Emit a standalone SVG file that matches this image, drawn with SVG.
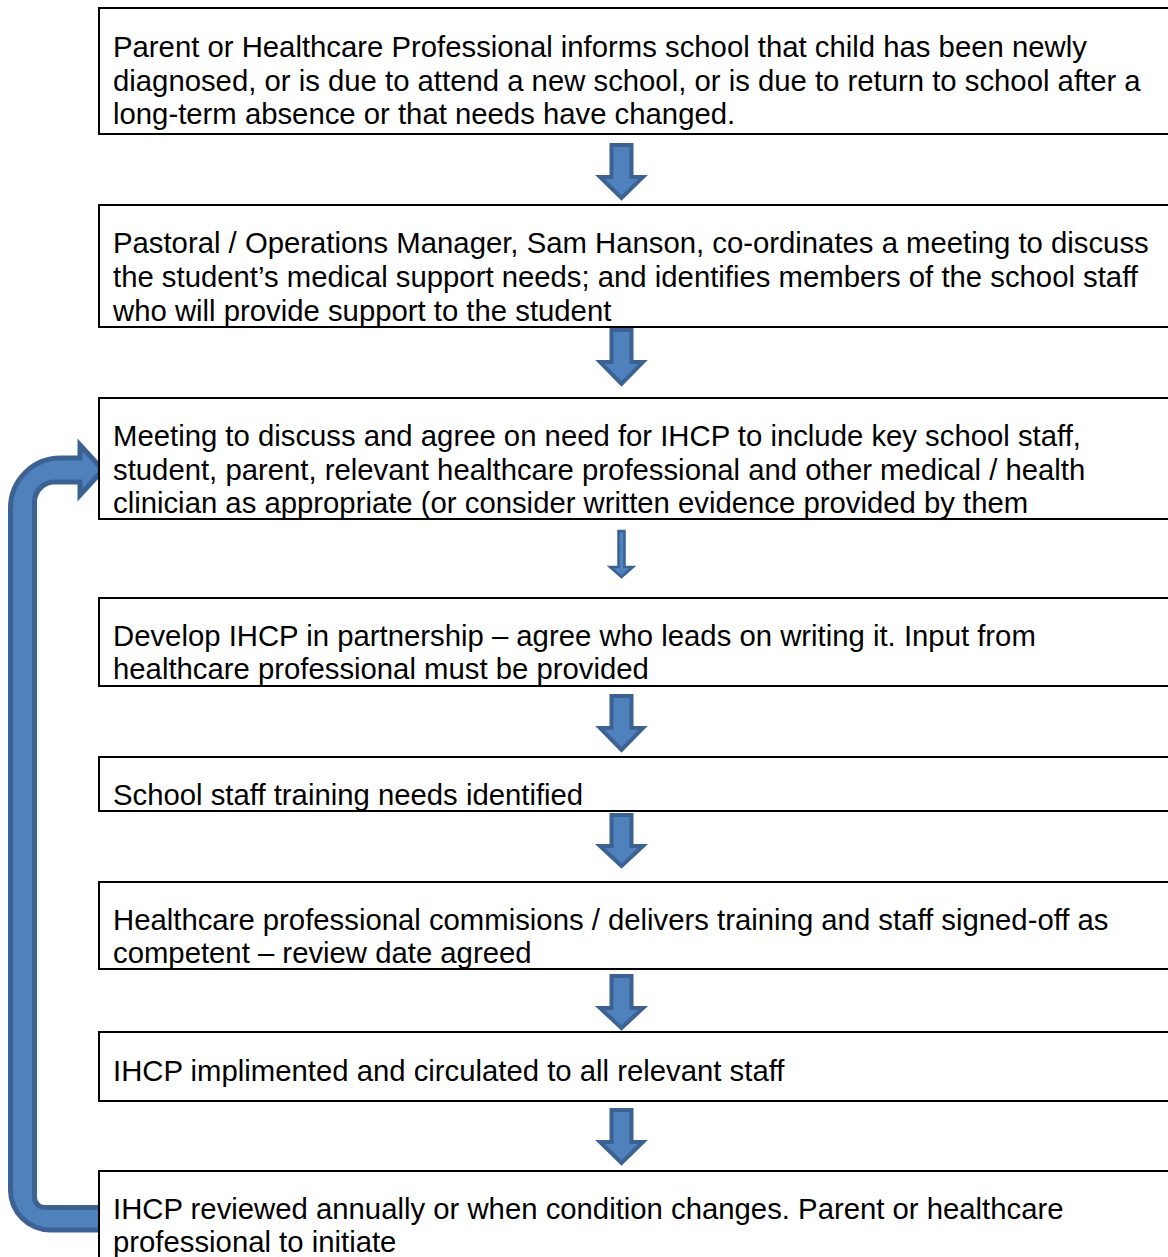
<svg xmlns="http://www.w3.org/2000/svg" width="1168" height="1257" viewBox="0 0 1168 1257">
<style>
.box{fill:#fff;stroke:#000;stroke-width:2}
.t{font-family:"Liberation Sans",Arial,sans-serif;font-size:29.3px;fill:#000}
.arr{fill:#4f81bd;stroke:#3b6293;stroke-width:4;stroke-linejoin:miter}
</style>
<rect width="1168" height="1257" fill="#fff"/>
<g id="connectors">
<path class="arr" style="stroke-width:5" d="M10.5 1190 L10.5 508 A50 50 0 0 1 60.5 458 L80 458 L80 445 L103 470 L80 495 L80 482 L54.5 482 A20 20 0 0 0 34.5 502 L34.5 1197.5 A10 10 0 0 0 44.5 1207.5 L105 1207.5 L105 1230 L50.5 1230 A40 40 0 0 1 10.5 1190 Z"/>
<path class="arr" d="M611.5 145 H631.5 V177 H643 L621.5 198 L600 177 H611.5 Z"/>
<path class="arr" d="M611.5 330 H631.5 V362 H643 L621.5 384 L600 362 H611.5 Z"/>
<path class="arr" style="stroke-width:2.5" d="M618.5 531 H624.5 V567 H633 L621.5 577 L610 567 H618.5 Z"/>
<path class="arr" d="M611.5 696 H631.5 V728 H643 L621.5 750 L600 728 H611.5 Z"/>
<path class="arr" d="M611.5 815 H631.5 V846 H643 L621.5 866 L600 846 H611.5 Z"/>
<path class="arr" d="M611.5 976 H631.5 V1008 H643 L621.5 1028 L600 1008 H611.5 Z"/>
<path class="arr" d="M611.5 1110 H631.5 V1142 H643 L621.5 1163 L600 1142 H611.5 Z"/>
</g>
<g id="n1"><rect class="box" x="99" y="8" width="1090" height="126"/>
<text class="t" x="113" y="57">Parent or Healthcare Professional informs school that child has been newly</text>
<text class="t" x="113" y="90.5">diagnosed, or is due to attend a new school, or is due to return to school after a</text>
<text class="t" x="113" y="124">long-term absence or that needs have changed.</text></g>
<g id="n2"><rect class="box" x="99" y="205" width="1090" height="122"/>
<text class="t" x="113" y="253">Pastoral / Operations Manager, Sam Hanson, co-ordinates a meeting to discuss</text>
<text class="t" x="113" y="287">the student’s medical support needs; and identifies members of the school staff</text>
<text class="t" x="113" y="321">who will provide support to the student</text></g>
<g id="n3"><rect class="box" x="99" y="398" width="1090" height="121"/>
<text class="t" x="113" y="446">Meeting to discuss and agree on need for IHCP to include key school staff,</text>
<text class="t" x="113" y="480">student, parent, relevant healthcare professional and other medical / health</text>
<text class="t" x="113" y="513">clinician as appropriate (or consider written evidence provided by them</text></g>
<g id="n4"><rect class="box" x="99" y="598" width="1090" height="88"/>
<text class="t" x="113" y="646">Develop IHCP in partnership – agree who leads on writing it. Input from</text>
<text class="t" x="113" y="679">healthcare professional must be provided</text></g>
<g id="n5"><rect class="box" x="99" y="757" width="1090" height="54"/>
<text class="t" x="113" y="805">School staff training needs identified</text></g>
<g id="n6"><rect class="box" x="99" y="882" width="1090" height="87"/>
<text class="t" x="113" y="930">Healthcare professional commisions / delivers training and staff signed-off as</text>
<text class="t" x="113" y="963">competent – review date agreed</text></g>
<g id="n7"><rect class="box" x="99" y="1032" width="1090" height="69"/>
<text class="t" x="113" y="1081">IHCP implimented and circulated to all relevant staff</text></g>
<g id="n8"><rect class="box" x="99" y="1171" width="1090" height="100"/>
<text class="t" x="113" y="1219">IHCP reviewed annually or when condition changes. Parent or healthcare</text>
<text class="t" x="113" y="1252">professional to initiate</text></g>
</svg>
